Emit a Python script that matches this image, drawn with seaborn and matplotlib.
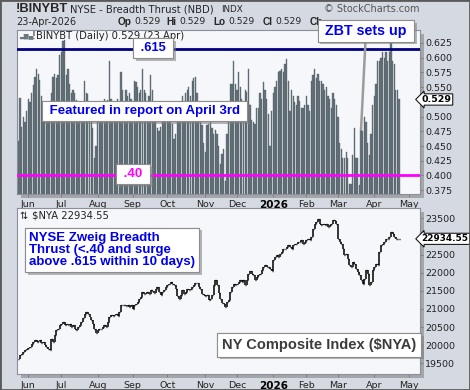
import numpy as np
import pandas as pd
import seaborn as sns
import matplotlib.pyplot as plt
from matplotlib import patheffects
from matplotlib.patches import Rectangle

sns.set_style("white")
plt.rcParams["font.family"] = ["DejaVu Sans"]

W, H = 470, 390
BG = "#d5d9e2"
PANEL = "#f6f7fa"
BAR = "#67757d"
BLUE = "#0000ee"
MAGENTA = "#ff00ff"
NAVY = "#000080"
NOTE_FONT = ["Liberation Sans", "DejaVu Sans"]

LAST_DAY = "2026-04-23"
ZBT_SETUP_DAY = "2026-03-20"
NYSE_HOLIDAYS = ["2025-05-26", "2025-06-19", "2025-07-04", "2025-09-01", "2025-11-27",
                 "2025-12-25", "2026-01-01", "2026-01-19", "2026-02-16", "2026-04-03"]

THRUST_HIGH = 0.615
THRUST_LOW = 0.40

# !BINYBT daily values
thrust = [
    0.458, 0.531, 0.483, 0.500, 0.490, 0.510, 0.530, 0.525, 0.540, 0.553,
    0.568, 0.580, 0.573, 0.562, 0.535, 0.515, 0.505, 0.498, 0.510, 0.522,
    0.540, 0.568, 0.572, 0.565, 0.570, 0.605, 0.610, 0.628, 0.630, 0.570,
    0.580, 0.555, 0.540, 0.545, 0.540, 0.528, 0.520, 0.515, 0.522, 0.525,
    0.560, 0.540, 0.538, 0.520, 0.505, 0.480, 0.430, 0.450, 0.500, 0.515,
    0.520, 0.525, 0.530, 0.522, 0.528, 0.595, 0.530, 0.520, 0.518, 0.525,
    0.530, 0.520, 0.575, 0.545, 0.522, 0.545, 0.535, 0.540, 0.530, 0.520,
    0.560, 0.558, 0.550, 0.540, 0.545, 0.580, 0.545, 0.540, 0.520, 0.535,
    0.571, 0.545, 0.525, 0.518, 0.480, 0.475, 0.482, 0.495, 0.500, 0.492,
    0.498, 0.505, 0.497, 0.488, 0.462, 0.470, 0.490, 0.500, 0.520, 0.535,
    0.525, 0.540, 0.545, 0.550, 0.535, 0.560, 0.565, 0.567, 0.540, 0.520,
    0.500, 0.485, 0.455, 0.440, 0.485, 0.487, 0.490, 0.480, 0.470, 0.478,
    0.470, 0.450, 0.420, 0.437, 0.445, 0.390, 0.470, 0.520, 0.555, 0.555,
    0.595, 0.555, 0.545, 0.575, 0.550, 0.530, 0.500, 0.545, 0.542, 0.580,
    0.520, 0.495, 0.490, 0.487, 0.515, 0.515, 0.540, 0.530, 0.558, 0.545,
    0.530, 0.505, 0.450, 0.510, 0.540, 0.550, 0.560, 0.575, 0.578, 0.580,
    0.575, 0.590, 0.597, 0.560, 0.510, 0.545, 0.535, 0.525, 0.520, 0.535,
    0.527, 0.515, 0.515, 0.520, 0.535, 0.520, 0.510, 0.560, 0.570, 0.580,
    0.565, 0.572, 0.560, 0.560, 0.555, 0.545, 0.550, 0.535, 0.530, 0.515,
    0.540, 0.530, 0.520, 0.500, 0.455, 0.445, 0.430, 0.430, 0.440, 0.430,
    0.385, 0.385, 0.435, 0.480, 0.430, 0.430, 0.383, 0.478, 0.475, 0.500,
    0.490, 0.455, 0.435, 0.470, 0.520, 0.535, 0.555, 0.595, 0.595, 0.600,
    0.610, 0.600, 0.610, 0.595, 0.610, 0.625, 0.595, 0.590, 0.545, 0.545,
    0.529,
]

# $NYA daily closes
nya_close = [
    19629, 19721, 19767, 19813, 19859, 19905, 19923, 19951, 20043, 20089,
    20135, 20089, 20107, 20135, 20070, 20089, 20015, 19951, 19905, 19859,
    20181, 20089, 20273, 20410, 20456, 20548, 20594, 20640, 20548, 20594,
    20548, 20594, 20502, 20548, 20438, 20410, 20502, 20548, 20640, 20751,
    20870, 20916, 20870, 20778, 20686, 20594, 20456, 20346, 20410, 20456,
    20438, 20502, 20548, 20502, 20640, 20778, 20824, 20806, 20824, 20870,
    20806, 20916, 21100, 21100, 21118, 21082, 21100, 21054, 21100, 21008,
    21100, 21146, 21192, 21284, 21330, 21468, 21422, 21450, 21468, 21422,
    21514, 21486, 21450, 21560, 21606, 21468, 21394, 21468, 21514, 21606,
    21652, 21698, 21744, 21698, 21652, 21560, 21358, 21284, 21376, 21514,
    21422, 21468, 21560, 21514, 21560, 21606, 21652, 21725, 21707, 21606,
    21560, 21422, 21376, 21358, 21376, 21238, 21284, 21394, 21652, 21790,
    21652, 21450, 21284, 21174, 21137, 21054, 21192, 21238, 21468, 21606,
    21698, 21652, 21698, 21744, 21790, 21744, 21790, 21652, 21790, 21974,
    22038, 21974, 21928, 21790, 21882, 21928, 21974, 22066, 22158, 22204,
    22158, 22148, 22112, 22056, 22341, 22433, 22479, 22424, 22525, 22571,
    22663, 22645, 22709, 22755, 22709, 22663, 22755, 22801, 22792, 22847,
    22847, 22893, 22801, 22847, 22893, 22939, 22893, 22985, 23215, 23353,
    23399, 23491, 23353, 23307, 23353, 23307, 23353, 23261, 23307, 23353,
    23445, 23417, 23353, 22939, 22847, 22801, 22663, 22479, 22525, 22387,
    22204, 22158, 22295, 22249, 22112, 22020, 21928, 21790, 21698, 21836,
    22066, 21974, 21652, 21744, 22066, 22158, 22249, 22204, 22571, 22755,
    22801, 22847, 22939, 22939, 22985, 23123, 23077, 22985, 22939, 22939,
    22934.55,
]

days = pd.bdate_range(end=LAST_DAY, periods=len(thrust), freq="C", holidays=NYSE_HOLIDAYS)
# the time axis runs on a couple of weeks past the last session
axis_days = pd.bdate_range(start=days[0], periods=len(thrust) + 13, freq="C", holidays=NYSE_HOLIDAYS)
month_pos = [i for i in range(1, len(axis_days)) if axis_days[i].month != axis_days[i - 1].month]
month_labels = [str(axis_days[i].year) if axis_days[i].month == 1 else axis_days[i].strftime("%b")
                for i in month_pos]

df = pd.DataFrame({"session": np.arange(len(thrust)), "thrust": thrust, "nya": nya_close})


def frame(x0, y0, x1, y1):
    return [x0 / W, 1 - y1 / H, (x1 - x0) / W, (y1 - y0) / H]


def shadow(artist, off=2):
    artist.set_path_effects([
        patheffects.withSimplePatchShadow(offset=(off, -off), shadow_rgbFace="#7d7d7d", alpha=0.55),
        patheffects.Normal(),
    ])


def callout(x, y, text, color, size, ha="center", pad=0.3):
    t = fig.text(x / W, 1 - y / H, text, color=color, fontsize=size, fontweight="bold",
                 family=NOTE_FONT, ha=ha, va="center", zorder=10, linespacing=1.05,
                 bbox=dict(boxstyle=f"square,pad={pad}", fc="white", ec="#8d8d8d", lw=0.8))
    shadow(t.get_bbox_patch())
    return t


def tag(ax, value, text, size=6.8):
    ax.text(1.004, value, text, transform=ax.get_yaxis_transform(), ha="left", va="center",
            fontsize=size, fontweight="bold", color="black", zorder=6, clip_on=False,
            bbox=dict(boxstyle="larrow,pad=0.12", fc="white", ec="black", lw=0.7))


def right_ticks(ticks, last, step):
    # the last-value tag sits over one of the labels, so that one is left out
    return [t for t in ticks if abs(t - last) > step * 0.4]


fig = plt.figure(figsize=(W / 100, H / 100), dpi=100, facecolor=BG)
ax1 = fig.add_axes(frame(16.7, 30, 420, 194.3))
ax2 = fig.add_axes(frame(16.7, 208, 420, 374))

# breadth thrust bars
sns.barplot(data=df, x="session", y="thrust", native_scale=True, color=BAR, saturation=1,
            width=0.78, edgecolor="#4c585e", linewidth=0.25, errorbar=None, ax=ax1)
ax1.axhline(THRUST_HIGH, color=NAVY, lw=2, zorder=3)
ax1.axhline(THRUST_LOW, color=MAGENTA, lw=2, zorder=3)
ax1.set_ylim(0.368, 0.647)
ax1.set_yticks(right_ticks(np.arange(0.375, 0.6251, 0.025), thrust[-1], 0.025))
ax1.yaxis.set_major_formatter("{x:.3f}")

# NYSE composite as open(=prior close)/close bars
prev = df["nya"].shift(1).fillna(df["nya"].iloc[0])
ax2.vlines(df["session"], np.minimum(prev, df["nya"]), np.maximum(prev, df["nya"]),
           color="black", lw=1.1)
ax2.hlines(df["nya"], df["session"], df["session"] + 0.6, color="black", lw=1)
ax2.set_ylim(19205, 23784)
ax2.set_yticks(right_ticks(np.arange(19500, 23501, 500), nya_close[-1], 500))
ax2.yaxis.set_major_formatter("{x:.0f}")

for ax in (ax1, ax2):
    ax.set_facecolor(PANEL)
    shadow(ax.patch, off=3)
    ax.set_xlim(-0.97, 242.6)
    ax.set_xticks(month_pos)
    ax.set_xticklabels(month_labels)
    ax.set_xlabel("")
    ax.set_ylabel("")
    ax.tick_params(axis="x", bottom=True, length=2.5, width=0.6, color="#777", pad=1.5,
                   labelsize=6.8, labelcolor="#222")
    ax.tick_params(axis="y", left=False, right=True, labelleft=False, labelright=True,
                   length=2.5, width=0.6, color="#777", pad=1.2, labelsize=6.8, labelcolor="#222")
    for lab in ax.get_xticklabels():
        if lab.get_text().isdigit():
            lab.set_fontweight("bold")
            lab.set_fontsize(7.5)
            lab.set_color("black")
    for s in ax.spines.values():
        s.set_color("#8a8f99")
        s.set_linewidth(0.8)
ax2.tick_params(axis="x", pad=2.5)

tag(ax1, thrust[-1], f"{thrust[-1]:.3f}")
tag(ax2, nya_close[-1], f"{nya_close[-1]:.2f}", size=6.4)

# header
last = f"{thrust[-1]:.3f}"
fig.text(16 / W, 1 - 9 / H, "!BINYBT", fontsize=9.3, fontweight="bold", family=NOTE_FONT,
         va="center", zorder=-1)
fig.text(70 / W, 1 - 9 / H, "NYSE - Breadth Thrust (NBD)", fontsize=7.2, va="center", zorder=-1)
fig.text(221 / W, 1 - 9 / H, "INDX", fontsize=6.3, va="center", zorder=-1)
fig.text(420 / W, 1 - 9 / H, "© StockCharts.com", fontsize=7, color="#555", ha="right",
         va="center", zorder=-1)
fig.text(16 / W, 1 - 22 / H, "23-Apr-2026", fontsize=7, va="center", zorder=-1)
for x, s, bold in [(118, "Op", True), (134, last, False), (166, "Hi", True), (179, last, False),
                   (213, "Lo", True), (228, last, False), (263, "Cl", True), (275, last, False),
                   (310, "Ch", True)]:
    fig.text(x / W, 1 - 22 / H, s, fontsize=7.2 if bold else 6.7, va="center", zorder=-1,
             fontweight="bold" if bold else "normal",
             family=NOTE_FONT if bold else ["DejaVu Sans"])

# in-panel legends
fig.text(19 / W, 1 - 36 / H, "▃▇▅", fontsize=4.5, color="#6c7880", va="center", zorder=8)
fig.text(32 / W, 1 - 36 / H, f"!BINYBT (Daily) {last} (23 Apr)", fontsize=7.2, color="#222",
         va="center", zorder=8)
fig.text(19 / W, 1 - 215.5 / H, "⇅", fontsize=7, color="#222", va="center", zorder=8)
fig.text(32 / W, 1 - 215.5 / H, f"$NYA {nya_close[-1]:.2f}", fontsize=7.2, color="#222",
         va="center", zorder=8)

# callouts
callout(153, 48, " .615 ", BLUE, 9.3)
callout(133, 174, " .40 ", MAGENTA, 9.5)
callout(144.5, 111, " Featured in report on April 3rd ", BLUE, 9.5)
callout(29, 250, "NYSE Zweig Breadth\nThrust (<.40 and surge\nabove .615 within 10 days)",
        BLUE, 9.5, ha="left")
callout(319, 345, "NY Composite Index ($NYA)", "#3c3c3c", 10.5, pad=0.32)

setup = days.get_loc(pd.Timestamp(ZBT_SETUP_DAY))
zbt = ax1.annotate(" ZBT sets up ", xy=(setup, thrust[setup]), xycoords="data",
                   xytext=(366 / W, 1 - 31 / H), textcoords="figure fraction",
                   ha="center", va="center", fontsize=10.3, fontweight="bold", color=BLUE,
                   family=NOTE_FONT, zorder=10, annotation_clip=False,
                   bbox=dict(boxstyle="square,pad=0.25", fc="white", ec="#8d8d8d", lw=0.8),
                   arrowprops=dict(arrowstyle="-", color="#9c9c9c", lw=1.8, shrinkA=0, shrinkB=0))
shadow(zbt.get_bbox_patch())

fig.add_artist(Rectangle((0, 0), 1, 1, transform=fig.transFigure, fill=False,
                         ec="#5a5a5a", lw=2))

fig.savefig("out.png", dpi=100, facecolor=BG)
